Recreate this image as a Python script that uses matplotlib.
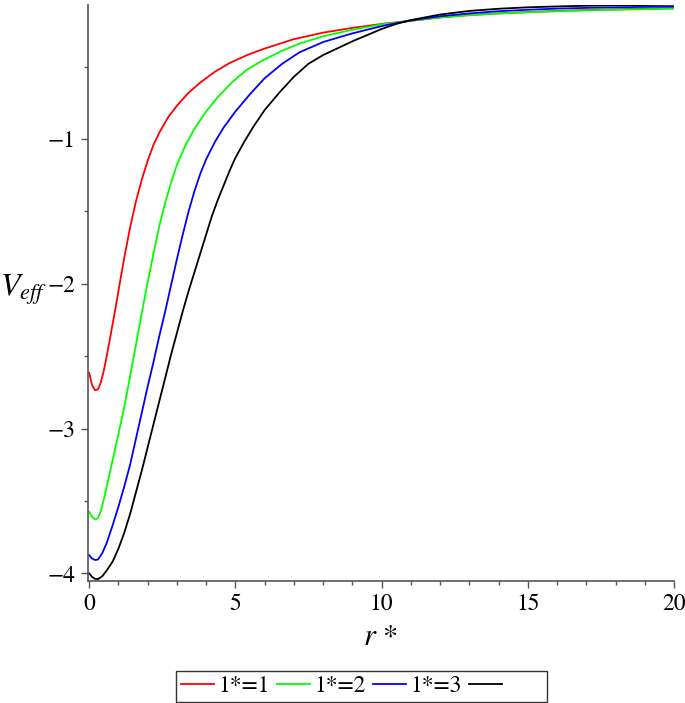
import matplotlib
matplotlib.use("Agg")
import matplotlib.pyplot as plt
from matplotlib.ticker import MultipleLocator, FixedLocator
from matplotlib.lines import Line2D

plt.rcParams['font.family'] = ['STIXGeneral', 'DejaVu Serif']
plt.rcParams['mathtext.fontset'] = 'stix'

# ---- data ----
r_l1 = [0, 0.1, 0.2, 0.3, 0.4, 0.5, 0.6, 0.7, 0.8, 0.9, 1.0, 1.2, 1.4, 1.6, 1.8, 2.0,
        2.2, 2.4, 2.7, 3.0, 3.4, 3.8, 4.3, 4.8, 5.4, 6.0, 7.0, 8.0, 9.0, 10.0, 11, 12,
        13, 14, 15, 16, 17, 18, 19, 20]
V_l1 = [-2.615, -2.70, -2.735, -2.73, -2.68, -2.60, -2.50, -2.39, -2.28, -2.17, -2.05,
        -1.82, -1.61, -1.43, -1.28, -1.15, -1.04, -0.955, -0.85, -0.77, -0.68, -0.61,
        -0.535, -0.475, -0.42, -0.375, -0.31, -0.265, -0.232, -0.205, -0.183, -0.16,
        -0.143, -0.132, -0.123, -0.115, -0.109, -0.104, -0.100, -0.096]

r_l2 = [0, 0.1, 0.2, 0.3, 0.4, 0.5, 0.6, 0.7, 0.8, 0.9, 1.0, 1.2, 1.4, 1.6, 1.8, 2.0,
        2.2, 2.4, 2.6, 2.8, 3.0, 3.3, 3.6, 4.0, 4.4, 4.9, 5.4, 6.0, 6.6, 7.2, 8.0, 9.0,
        10.0, 11, 12, 13, 14, 15, 16, 17, 18, 19, 20]
V_l2 = [-3.575, -3.61, -3.628, -3.62, -3.57, -3.49, -3.40, -3.31, -3.22, -3.13, -3.04,
        -2.85, -2.64, -2.42, -2.20, -1.99, -1.79, -1.60, -1.44, -1.30, -1.18, -1.04,
        -0.93, -0.81, -0.71, -0.605, -0.52, -0.45, -0.39, -0.34, -0.29, -0.245, -0.208,
        -0.183, -0.16, -0.145, -0.133, -0.124, -0.117, -0.111, -0.107, -0.103, -0.100]

r_l3 = [0, 0.1, 0.2, 0.3, 0.45, 0.6, 0.8, 1.0, 1.2, 1.4, 1.6, 1.8, 2.0, 2.2, 2.4, 2.6,
        2.8, 3.0, 3.2, 3.4, 3.6, 3.8, 4.0, 4.3, 4.6, 5.0, 5.5, 6.0, 6.6, 7.2, 8.0, 9.0,
        10.0, 10.5, 11, 12, 13, 14, 15, 16, 17, 18, 19, 20]
V_l3 = [-3.875, -3.898, -3.908, -3.905, -3.86, -3.79, -3.67, -3.54, -3.40, -3.25, -3.07,
        -2.89, -2.71, -2.54, -2.36, -2.19, -2.01, -1.83, -1.66, -1.50, -1.36, -1.24,
        -1.14, -1.02, -0.92, -0.81, -0.69, -0.58, -0.48, -0.40, -0.33, -0.27, -0.22,
        -0.20, -0.181, -0.152, -0.132, -0.117, -0.107, -0.099, -0.094, -0.090, -0.087,
        -0.085]

r_l4 = [0, 0.1, 0.2, 0.3, 0.45, 0.6, 0.8, 1.0, 1.2, 1.4, 1.6, 1.8, 2.0, 2.2, 2.4, 2.6,
        2.8, 3.0, 3.2, 3.4, 3.6, 3.8, 4.0, 4.2, 4.4, 4.6, 4.8, 5.0, 5.3, 5.6, 6.0, 6.5,
        7.0, 7.5, 8.0, 9.0, 10.0, 10.5, 11, 12, 13, 14, 15, 16, 17, 18, 19, 20]
V_l4 = [-4.00, -4.025, -4.038, -4.04, -4.02, -3.98, -3.92, -3.83, -3.72, -3.59, -3.44,
        -3.29, -3.13, -2.97, -2.81, -2.65, -2.49, -2.34, -2.19, -2.05, -1.92, -1.79,
        -1.66, -1.53, -1.42, -1.32, -1.22, -1.13, -1.02, -0.92, -0.80, -0.68, -0.57,
        -0.48, -0.42, -0.325, -0.24, -0.205, -0.178, -0.14, -0.115, -0.10, -0.09,
        -0.084, -0.079, -0.076, -0.074, -0.072]

series = [(r_l1, V_l1, '#ff0000', '1*=1'),
          (r_l2, V_l2, '#00ff00', '1*=2'),
          (r_l3, V_l3, '#0000ff', '1*=3'),
          (r_l4, V_l4, '#000000', '')]

x_major = [0, 5, 10, 15, 20]
y_major = [-1, -2, -3, -4]
y_minor = [-0.5, -1.5, -2.5, -3.5]

W, H = 685, 703
fig = plt.figure(figsize=(W / 100, H / 100), dpi=100)
left, right, top, bottom = 88, 674, 4.7, 580.7
ax = fig.add_axes([left / W, 1 - bottom / H, (right - left) / W, (bottom - top) / H])

handles = []
for r, v, c, lab in series:
    ax.plot(r, v, color=c, lw=1.3, solid_joinstyle='round')
    handles.append(Line2D([], [], color=c, lw=1.3))

ax.set_xlim(-0.04, 20)
ax.set_ylim(-4.051, -0.072)

for s in ['top', 'right']:
    ax.spines[s].set_visible(False)
for s in ['left', 'bottom']:
    ax.spines[s].set_color('#555555')
    ax.spines[s].set_linewidth(1.2)

ax.xaxis.set_major_locator(FixedLocator(x_major))
ax.xaxis.set_minor_locator(MultipleLocator(1))
ax.yaxis.set_major_locator(FixedLocator(y_major))
ax.yaxis.set_minor_locator(FixedLocator(y_minor))
ax.tick_params(which='major', direction='out', length=5, width=1.0, color='#555555',
               labelsize=17, pad=4)
ax.tick_params(which='minor', direction='out', length=3, width=1.0, color='#555555')

fig.text(0.0, 1 - 296 / H, '$V_{eff}$', fontsize=23, ha='left', va='baseline')
fig.text(380 / W, 1 - 645 / H, '$r$ *', fontsize=22, ha='center', va='baseline')

labels = [s[3] for s in series]
labels[-1] = ' ' * 6
leg = fig.legend(handles, labels, loc='lower center', ncol=4,
                 bbox_to_anchor=(361.5 / W, 1 / H), fontsize=17,
                 handlelength=1.4, handletextpad=0.2, columnspacing=0.3,
                 borderpad=0.2, borderaxespad=0, fancybox=False, framealpha=1,
                 frameon=True)
leg.get_frame().set_edgecolor('#333333')
leg.get_frame().set_linewidth(1.0)

fig.savefig('out.png', dpi=100)
